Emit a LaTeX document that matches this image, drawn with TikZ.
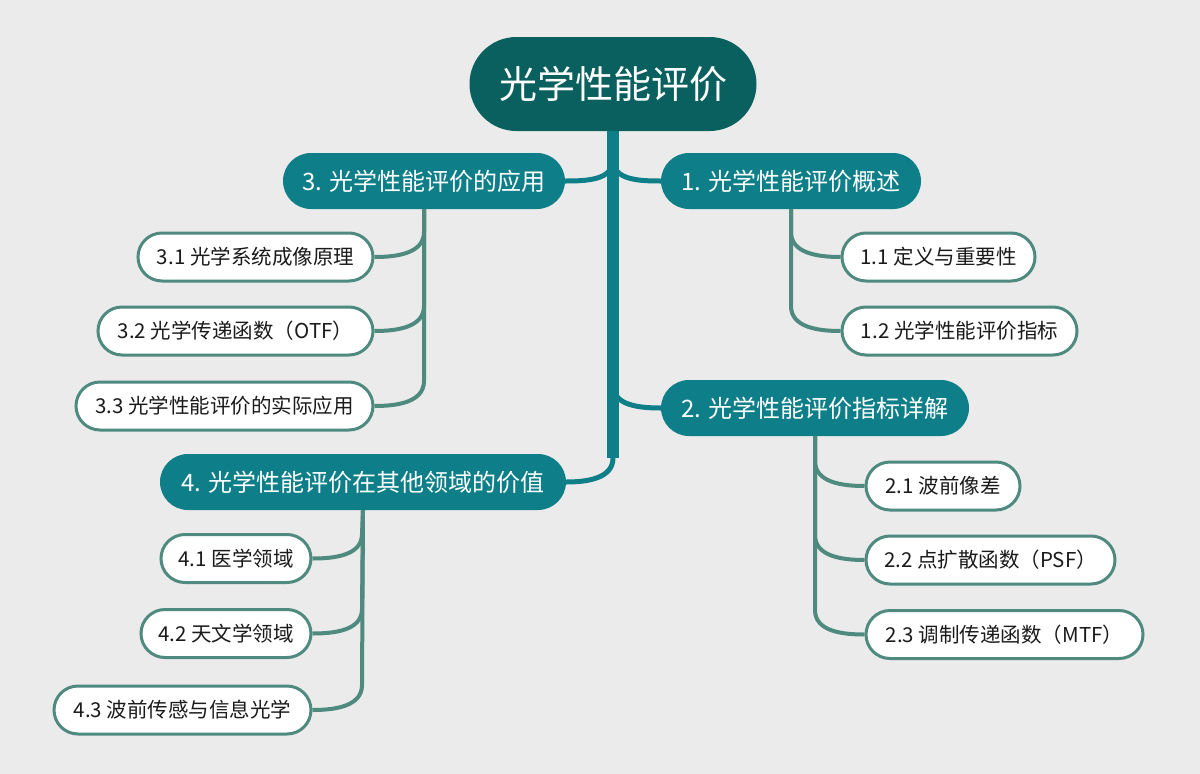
\documentclass[tikz,border=0pt]{standalone}
\usepackage{fontspec}
\setmainfont{Noto Sans CJK SC}
\definecolor{bgc}{RGB}{235,235,235}
\definecolor{rootc}{RGB}{10,96,94}
\definecolor{mainc}{RGB}{14,127,137}
\definecolor{subc}{RGB}{78,138,126}
\definecolor{txtc}{RGB}{26,26,26}
\tikzset{
  rootbox/.style={fill=rootc, text=white, rounded corners=47pt, minimum height=94pt, inner sep=0pt, font=\fontsize{38}{42}\selectfont},
  mainbox/.style={fill=mainc, text=white, rounded corners=28pt, minimum height=56pt, inner sep=0pt, font=\fontsize{24}{27}\selectfont},
  subbox/.style={fill=white, draw=subc, line width=3pt, text=txtc, rounded corners=24pt, minimum height=48pt, inner sep=0pt, font=\fontsize{20.5}{23}\selectfont},
  trunk/.style={draw=mainc, line width=12pt},
  mainlink/.style={draw=mainc, line width=5pt},
  sublink/.style={draw=subc, line width=4pt},
}
\begin{document}
\begin{tikzpicture}[x=1pt,y=-1pt]
\fill[bgc] (0,0) rectangle (1200,774);
\useasboundingbox (0,0) rectangle (1200,774);

% trunk coordinates
\coordinate (t0) at (613,120);
\coordinate (t1) at (613,160);
\coordinate (t2) at (613,385);
\coordinate (t3) at (613,458);
\draw[trunk] (t0) -- (t3);

% nodes
\node[rootbox, minimum width=287pt] (root) at (613,84) {光学性能评价};
\node[mainbox, minimum width=282pt] (n3) at (424,181) {3. 光学性能评价的应用};
\node[mainbox, minimum width=260pt] (n1) at (791,181) {1. 光学性能评价概述};
\node[mainbox, minimum width=308pt] (n2) at (815,408) {2. 光学性能评价指标详解};
\node[mainbox, minimum width=406pt] (n4) at (363,482) {4. 光学性能评价在其他领域的价值};

\node[subbox, minimum width=193pt] (c11) at (938.5,257) {1.1 定义与重要性};
\node[subbox, minimum width=235pt] (c12) at (959.5,331) {1.2 光学性能评价指标};

\node[subbox, minimum width=235pt] (c31) at (255.5,257) {3.1 光学系统成像原理};
\node[subbox, minimum width=275pt] (c32) at (235.5,331) {3.2 光学传递函数（OTF）};
\node[subbox, minimum width=297pt] (c33) at (224.5,406) {3.3 光学性能评价的实际应用};

\node[subbox, minimum width=154pt] (c21) at (943,486) {2.1 波前像差};
\node[subbox, minimum width=249pt] (c22) at (990.5,560) {2.2 点扩散函数（PSF）};
\node[subbox, minimum width=277pt] (c23) at (1004.5,634.5) {2.3 调制传递函数（MTF）};

\node[subbox, minimum width=150pt] (c41) at (236,558.5) {4.1 医学领域};
\node[subbox, minimum width=170pt] (c42) at (226,633.5) {4.2 天文学领域};
\node[subbox, minimum width=257pt] (c43) at (182.5,710) {4.3 波前传感与信息光学};

% main links
\draw[mainlink] (t1) to[out=-90,in=0] (n3.east);
\draw[mainlink] (t1) to[out=-90,in=180] (n1.west);
\draw[mainlink] (t2) to[out=-90,in=180] (n2.west);
\draw[mainlink] (t3) to[out=-90,in=0] (n4.east);

% sub links
\draw[sublink] (n1.south) -- (791,232) to[out=-90,in=180] (c11.west);
\draw[sublink] (n1.south) -- (791,306) to[out=-90,in=180] (c12.west);

\draw[sublink] (n3.south) -- (424,232) to[out=-90,in=0] (c31.east);
\draw[sublink] (n3.south) -- (424,306) to[out=-90,in=0] (c32.east);
\draw[sublink] (n3.south) -- (424,381) to[out=-90,in=0] (c33.east);

\draw[sublink] (n2.south) -- (815,461) to[out=-90,in=180] (c21.west);
\draw[sublink] (n2.south) -- (815,535) to[out=-90,in=180] (c22.west);
\draw[sublink] (n2.south) -- (815,610) to[out=-90,in=180] (c23.west);

\draw[sublink] (n4.south) -- (362,534) to[out=-90,in=0] (c41.east);
\draw[sublink] (n4.south) -- (362,609) to[out=-90,in=0] (c42.east);
\draw[sublink] (n4.south) -- (362,685) to[out=-90,in=0] (c43.east);
\end{tikzpicture}
\end{document}
